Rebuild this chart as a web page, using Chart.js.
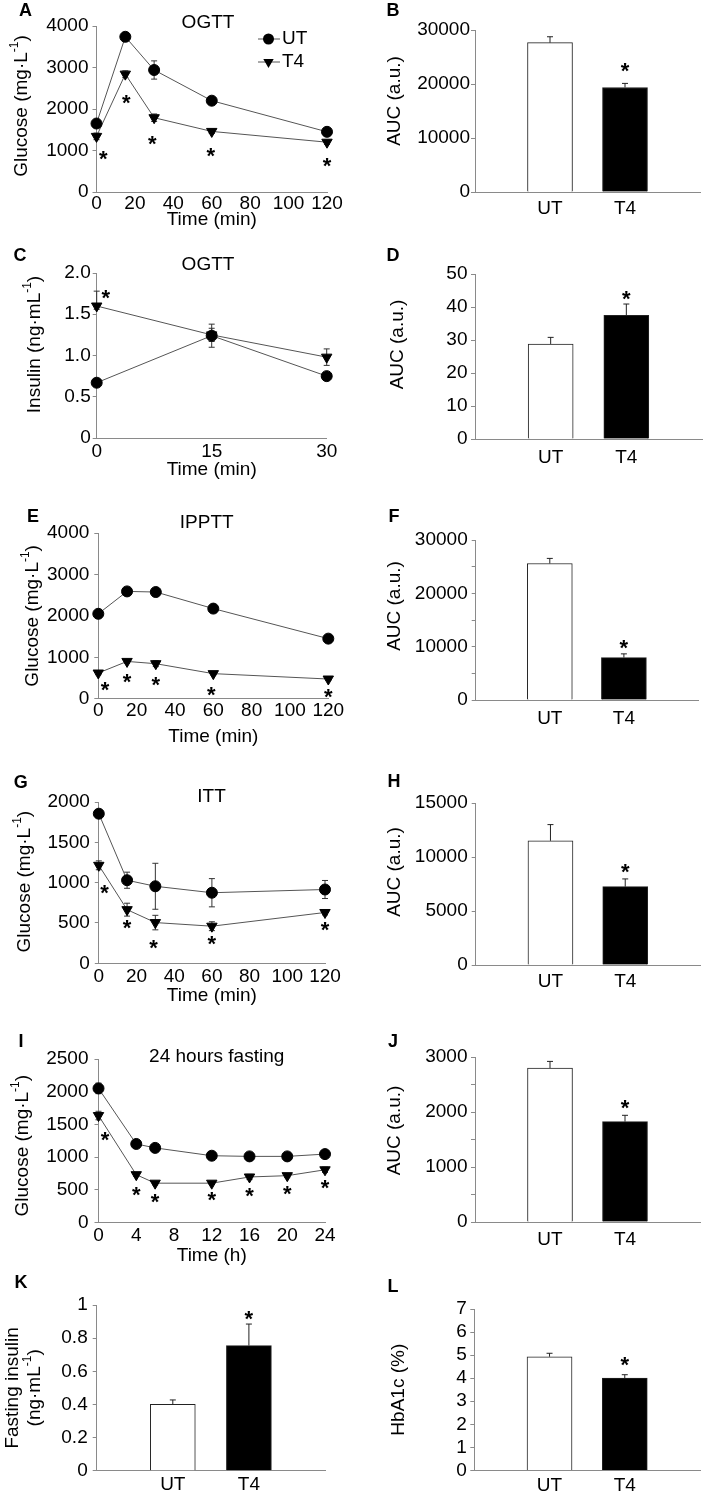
<!DOCTYPE html>
<html>
<head>
<meta charset="utf-8">
<script src="https://cdn.jsdelivr.net/npm/chart.js@4.4.1/dist/chart.umd.min.js"></script>
<style>
html, body { margin: 0; padding: 0; background: #fff; }
#fig { position: relative; width: 709px; height: 1498px; overflow: hidden; background: #fff; }
#fig canvas { position: absolute; }
</style>
</head>
<body>
<div id="fig"></div>
<script>
// --- DATA ---
const groups = ['UT', 'T4']
const minTicks = [0, 20, 40, 60, 80, 100, 120]

// A: OGTT glucose
const ogttTime = [0, 15, 30, 60, 120]
const ogttGluUT = [1650, 3740, 2940, 2200, 1450]
const ogttGluUTErr = [50, 100, 220, 60, 60]
const ogttGluT4 = [1340, 2840, 1790, 1460, 1200]
const ogttGluT4Err = [80, 80, 90, 50, 50]
const ogttGluStarT = [3.5, 15.5, 29, 59.5, 120]
const ogttGluStarY = [925, 2290, 1290, 1000, 765]
const gluTicksA = [0, 1000, 2000, 3000, 4000]

// B: OGTT glucose AUC
const ogttGluAuc = [27650, 19360]
const ogttGluAucErr = [1100, 750]
const ogttGluAucStar = 23500
const aucTicksB = [0, 10000, 20000, 30000]

// C: OGTT insulin
const insTime = [0, 15, 30]
const ogttInsUT = [0.67, 1.24, 0.75]
const ogttInsUTErr = [0.03, 0.14, 0.04]
const ogttInsT4 = [1.60, 1.25, 0.98]
const ogttInsT4Err = [0.18, 0.08, 0.1]
const ogttInsT4ErrLow = [0.04, 0.08, 0.1]
const ogttInsStarT = [1.2]
const ogttInsStarY = [1.77]
const insTicksC = [0, 0.5, 1, 1.5, 2]
const insTickLabelsC = ['0', '0.5', '1.0', '1.5', '2.0']

// D: OGTT insulin AUC
const ogttInsAuc = [28.8, 37.5]
const ogttInsAucErr = [2.0, 3.4]
const ogttInsAucStar = 44.2
const aucTicksD = [0, 10, 20, 30, 40, 50]

// E: IPPTT
const ipptTime = [0, 15, 30, 60, 120]
const ipptUT = [2050, 2590, 2575, 2175, 1450]
const ipptUTErr = [50, 50, 50, 60, 50]
const ipptT4 = [620, 900, 845, 605, 475]
const ipptT4Err = [40, 40, 70, 30, 30]
const ipptStarT = [3.5, 15, 30, 59, 120]
const ipptStarY = [340, 540, 460, 235, 180]
const gluTicksE = [0, 1000, 2000, 3000, 4000]

// F: IPPTT AUC
const ipptAuc = [25600, 7950]
const ipptAucErr = [950, 700]
const ipptAucStar = 10750
const aucTicksF = [0, 5000, 10000, 15000, 20000, 25000, 30000]
const aucTickLabelsF = ['0', '', '10000', '', '20000', '', '30000']

// G: ITT
const ittTime = [0, 15, 30, 60, 120]
const ittUT = [1855, 1030, 955, 875, 915]
const ittUTErr = [50, 100, 285, 175, 112]
const ittT4 = [1215, 665, 505, 460, 630]
const ittT4Err = [55, 80, 90, 55, 30]
const ittStarT = [3, 15, 29, 60, 120]
const ittStarY = [946, 512, 264, 306, 483]
const gluTicksG = [0, 500, 1000, 1500, 2000]

// H: ITT AUC
const ittAuc = [11500, 7250]
const ittAucErr = [1500, 720]
const ittAucStar = 9170
const aucTicksH = [0, 5000, 10000, 15000]

// I: 24 hours fasting
const fastTime = [0, 4, 6, 12, 16, 20, 24]
const fastUT = [2050, 1200, 1140, 1020, 1010, 1010, 1045]
const fastUTErr = [80, 30, 30, 30, 30, 30, 40]
const fastT4 = [1635, 730, 600, 600, 695, 715, 805]
const fastT4Err = [65, 25, 25, 20, 40, 30, 40]
const fastStarT = [0.7, 4, 6, 12, 16, 20, 24]
const fastStarY = [1342, 510, 398, 423, 490, 525, 612]
const gluTicksI = [0, 500, 1000, 1500, 2000, 2500]
const hourTicks = [0, 4, 8, 12, 16, 20, 24]

// J: fasting AUC
const fastAuc = [2800, 1825]
const fastAucErr = [120, 115]
const fastAucStar = 2176
const aucTicksJ = [0, 500, 1000, 1500, 2000, 2500, 3000]
const aucTickLabelsJ = ['0', '', '1000', '', '2000', '', '3000']

// K: fasting insulin
const fastIns = [0.40, 0.755]
const fastInsErr = [0.027, 0.13]
const fastInsStar = 0.95
const insTicksK = [0, 0.2, 0.4, 0.6, 0.8, 1]

// L: HbA1c
const hba1c = [4.93, 4.0]
const hba1cErr = [0.15, 0.15]
const hba1cStar = 4.83
const hbTicks = [0, 1, 2, 3, 4, 5, 6, 7]

// --- TEXT ---
const gluLabel = [[{t: 'Glucose (mg·L'}, {t: '-1', sup: true}, {t: ')'}]]
const insLabel = [[{t: 'Insulin (ng·mL'}, {t: '-1', sup: true}, {t: ')'}]]
const aucLabel = [[{t: 'AUC (a.u.)'}]]
const fastInsLabel = [[{t: 'Fasting insulin'}], [{t: '(ng·mL'}, {t: '-1', sup: true}, {t: ')'}]]
const hbLabel = [[{t: 'HbA1c (%)'}]]

// --- STYLE / LAYOUT ---
const FAMILY = '"Liberation Sans", Arial, sans-serif'
const FSIZE = 19
const FONT = FSIZE + 'px ' + FAMILY
const SUPFONT = '12px ' + FAMILY
const AXIS = '#8a8a8a'
const LINE = '#555'
const AXW = 72, AXH = 40, TOPM = 34, BOTM = 60

Chart.defaults.font.family = FAMILY
Chart.defaults.font.size = FSIZE
Chart.defaults.color = '#000'

const panels = [
    { letter: 'A', kind: 'line', col: 0, plot: [96.5, 26, 327, 192], letterAt: [-71, -14.5],
      title: {t: 'OGTT', dx: 111.5, dy: -3}, ylab: gluLabel, ylabX: [-74.5], ylabDy: -3, xlab: 'Time (min)', xlabDy: 28,
      xTicks: minTicks, xPad: 0, yTicks: gluTicksA, yPad: 4, legend: true,
      time: ogttTime, ut: ogttGluUT, utErr: ogttGluUTErr, t4: ogttGluT4, t4Err: ogttGluT4Err, starT: ogttGluStarT, starY: ogttGluStarY },
    { letter: 'B', kind: 'bar', col: 1, plot: [475, 30, 700, 192], letterAt: [-82, -19],
      ylab: aucLabel, ylabX: [-80], ylabDy: -10, xPad: 5, yTicks: aucTicksB, yPad: 1,
      vals: ogttGluAuc, errs: ogttGluAucErr, star: ogttGluAucStar },
    { letter: 'C', kind: 'line', col: 0, plot: [96.7, 273.3, 326.7, 438.3], letterAt: [-76.7, -17.3],
      title: {t: 'OGTT', dx: 111.3, dy: -8.3}, ylab: insLabel, ylabX: [-61.7], ylabDy: -11, xlab: 'Time (min)', xlabDy: 32,
      xTicks: insTime, xPad: 2, yTicks: insTicksC, yTickLabels: insTickLabelsC, yPad: 2,
      time: insTime, ut: ogttInsUT, utErr: ogttInsUTErr, t4: ogttInsT4, t4Err: ogttInsT4Err, t4ErrLow: ogttInsT4ErrLow,
      starT: ogttInsStarT, starY: ogttInsStarY },
    { letter: 'D', kind: 'bar', col: 1, plot: [475, 274.3, 702, 439.3], letterAt: [-82, -18.3],
      ylab: aucLabel, ylabX: [-77], ylabDy: -12, xPad: 7, yTicks: aucTicksD, yPad: 3.5,
      vals: ogttInsAuc, errs: ogttInsAucErr, star: ogttInsAucStar },
    { letter: 'E', kind: 'line', col: 0, plot: [98.3, 533.3, 328.3, 699], letterAt: [-65.3, -16.3],
      title: {t: 'IPPTT', dx: 108.4, dy: -10.3}, ylab: gluLabel, ylabX: [-65.3], ylabDy: 0, xlab: 'Time (min)', xlabDy: 37.7,
      xTicks: minTicks, xPad: 1, yTicks: gluTicksE, yPad: 5,
      time: ipptTime, ut: ipptUT, utErr: ipptUTErr, t4: ipptT4, t4Err: ipptT4Err, starT: ipptStarT, starY: ipptStarY },
    { letter: 'F', kind: 'bar', col: 1, plot: [475.7, 540, 698, 700], letterAt: [-81.7, -23],
      ylab: aucLabel, ylabX: [-80.7], ylabDy: -14, xPad: 7, yTicks: aucTicksF, yTickLabels: aucTickLabelsF, yPad: 4,
      vals: ipptAuc, errs: ipptAucErr, star: ipptAucStar },
    { letter: 'G', kind: 'line', col: 0, plot: [98.8, 801.7, 325, 963], letterAt: [-78, -18.7],
      title: {t: 'ITT', dx: 112.7, dy: -5.7}, ylab: gluLabel, ylabX: [-74], ylabDy: -1, xlab: 'Time (min)', xlabDy: 32,
      xTicks: minTicks, xPad: 2, yTicks: gluTicksG, yPad: 5,
      time: ittTime, ut: ittUT, utErr: ittUTErr, t4: ittT4, t4Err: ittT4Err, starT: ittStarT, starY: ittStarY },
    { letter: 'H', kind: 'bar', col: 1, plot: [475.7, 802.7, 700, 964.7], letterAt: [-81.7, -20.7],
      ylab: aucLabel, ylabX: [-80.7], ylabDy: -12, xPad: 5, yTicks: aucTicksH, yPad: 4,
      vals: ittAuc, errs: ittAucErr, star: ittAucStar },
    { letter: 'I', kind: 'line', col: 0, plot: [98.5, 1059.3, 325, 1222.7], letterAt: [-77.5, -17.3],
      title: {t: '24 hours fasting', dx: 118.2, dy: -2.3}, ylab: gluLabel, ylabX: [-75.5], ylabDy: 5, xlab: 'Time (h)', xlabDy: 33,
      xTicks: hourTicks, xPad: 2, yTicks: gluTicksI, yPad: 6,
      time: fastTime, ut: fastUT, utErr: fastUTErr, t4: fastT4, t4Err: fastT4Err, starT: fastStarT, starY: fastStarY },
    { letter: 'J', kind: 'bar', col: 1, plot: [475, 1057.3, 700, 1222.3], letterAt: [-82, -15.3],
      ylab: aucLabel, ylabX: [-80], ylabDy: -9, xPad: 6, yTicks: aucTicksJ, yTickLabels: aucTickLabelsJ, yPad: 3.5,
      vals: fastAuc, errs: fastAucErr, star: fastAucStar },
    { letter: 'K', kind: 'bar', col: 0, plot: [96.7, 1305, 325, 1470.7], letterAt: [-75.7, -22],
      ylab: fastInsLabel, ylabX: [-83.7, -61.7], ylabDy: 0, xPad: 2.5, yTicks: insTicksK, yPad: 5,
      vals: fastIns, errs: fastInsErr, star: fastInsStar },
    { letter: 'L', kind: 'bar', col: 1, plot: [474.3, 1309.3, 700, 1470.7], letterAt: [-81.3, -22.3],
      ylab: hbLabel, ylabX: [-75.3], ylabDy: 0, xPad: 4, yTicks: hbTicks, yPad: 3.5,
      vals: hba1c, errs: hba1cErr, star: hba1cStar }
]

const specs = {}

// --- DRAW HELPERS ---

function drawRich(ctx, parts, x, y, rotate){
    ctx.save()
    ctx.translate(x, y)
    if (rotate) ctx.rotate(-Math.PI / 2)
    let w = 0
    parts.forEach(p => { ctx.font = p.sup ? SUPFONT : FONT; w += ctx.measureText(p.t).width })
    let cx = -w / 2
    ctx.textAlign = 'left'
    ctx.textBaseline = 'middle'
    ctx.fillStyle = '#000'
    parts.forEach(p => {
        ctx.font = p.sup ? SUPFONT : FONT
        ctx.fillText(p.t, cx, p.sup ? -7 : 0)
        cx += ctx.measureText(p.t).width
    })
    ctx.restore()
}

function marker(ctx, style, x, y){
    ctx.save()
    ctx.fillStyle = '#000'
    ctx.beginPath()
    if (style === 'circle') {
        ctx.arc(x, y, 5.5, 0, Math.PI * 2)
    } else {
        const r = 6
        ctx.moveTo(x - r * 0.866, y - r / 2)
        ctx.lineTo(x + r * 0.866, y - r / 2)
        ctx.lineTo(x, y + r)
        ctx.closePath()
    }
    ctx.fill()
    ctx.restore()
}

function star(ctx, x, y){
    ctx.save()
    ctx.font = 'bold 22px ' + FAMILY
    ctx.textAlign = 'center'
    ctx.textBaseline = 'alphabetic'
    ctx.fillStyle = '#000'
    ctx.fillText('*', x, y + 12.7)
    ctx.restore()
}

function errBar(ctx, x, yTop, yBot){
    ctx.beginPath()
    ctx.moveTo(x, yTop); ctx.lineTo(x, yBot)
    ctx.moveTo(x - 3, yTop); ctx.lineTo(x + 3, yTop)
    ctx.moveTo(x - 3, yBot); ctx.lineTo(x + 3, yBot)
    ctx.stroke()
}

const decor = {
    id: 'decor',
    beforeDatasetsDraw(chart){
        const p = specs[chart.canvas.id]
        if (p.kind !== 'line') return
        const ctx = chart.ctx, xs = chart.scales.x, ys = chart.scales.y
        ctx.save()
        ctx.strokeStyle = '#333'
        ctx.lineWidth = 1
        chart.data.datasets.forEach(ds => {
            ds.data.forEach((pt, i) => {
                const up = ds.errors[i]
                const low = ds.errorsLow ? ds.errorsLow[i] : up
                const px = xs.getPixelForValue(pt.x)
                errBar(ctx, px, ys.getPixelForValue(pt.y + up), ys.getPixelForValue(pt.y - low))
            })
        })
        ctx.restore()
    },
    afterDatasetsDraw(chart){
        const p = specs[chart.canvas.id]
        if (p.kind !== 'bar') return
        const ctx = chart.ctx, ys = chart.scales.y
        const meta = chart.getDatasetMeta(0)
        const ds = chart.data.datasets[0]
        ctx.save()
        ctx.strokeStyle = '#222'
        ctx.lineWidth = 1
        ds.data.forEach((v, i) => {
            if (v === null) return
            const px = meta.data[i].x
            const yv = ys.getPixelForValue(v), ye = ys.getPixelForValue(v + ds.errors[i])
            ctx.beginPath()
            ctx.moveTo(px, yv); ctx.lineTo(px, ye)
            ctx.moveTo(px - 3, ye); ctx.lineTo(px + 3, ye)
            ctx.stroke()
        })
        ctx.restore()
    },
    afterDraw(chart){
        const p = specs[chart.canvas.id]
        const ctx = chart.ctx, area = chart.chartArea
        const xs = chart.scales.x, ys = chart.scales.y

        // panel letter
        ctx.save()
        ctx.font = 'bold 18px ' + FAMILY
        ctx.textAlign = 'center'
        ctx.textBaseline = 'middle'
        ctx.fillStyle = '#000'
        ctx.fillText(p.letter, area.left + p.letterAt[0], area.top + p.letterAt[1])
        ctx.restore()

        // y label
        const midY = (area.top + area.bottom) / 2 + p.ylabDy
        p.ylab.forEach((line, i) => drawRich(ctx, line, area.left + p.ylabX[i], midY, true))

        if (p.kind === 'line') {
            ctx.save()
            ctx.font = FONT
            ctx.fillStyle = '#000'
            ctx.textAlign = 'center'
            ctx.textBaseline = 'middle'
            ctx.fillText(p.title.t, area.left + p.title.dx, area.top + p.title.dy)
            ctx.fillText(p.xlab, (area.left + area.right) / 2, area.bottom + p.xlabDy)
            ctx.restore()

            p.starT.forEach((t, i) => star(ctx, xs.getPixelForValue(t), ys.getPixelForValue(p.starY[i])))

            if (p.legend) {
                const rows = [['UT', 'circle', 13], ['T4', 'triangle', 36]]
                rows.forEach(([name, style, dy]) => {
                    const y = area.top + dy, x0 = area.left + 161.5
                    ctx.save()
                    ctx.strokeStyle = LINE
                    ctx.lineWidth = 1
                    ctx.beginPath(); ctx.moveTo(x0, y); ctx.lineTo(x0 + 22, y); ctx.stroke()
                    ctx.restore()
                    marker(ctx, style, x0 + 10.5, y)
                    ctx.save()
                    ctx.font = FONT
                    ctx.fillStyle = '#000'
                    ctx.textAlign = 'left'
                    ctx.textBaseline = 'middle'
                    ctx.fillText(name, x0 + 24, y)
                    ctx.restore()
                })
            }
        } else {
            const i = chart.data.labels.indexOf('T4')
            star(ctx, xs.getPixelForValue(i), ys.getPixelForValue(p.star))
        }
    }
}

// --- AXES ---

function yAxis(p){
    const ticks = p.yTicks
    const labels = p.yTickLabels || ticks.map(String)
    return {
        type: 'linear',
        min: ticks[0],
        max: ticks[ticks.length - 1],
        afterBuildTicks: s => { s.ticks = ticks.map(v => ({value: v})) },
        afterFit: s => { s.width = AXW },
        ticks: { padding: p.yPad, autoSkip: false, callback: (v, i) => labels[i], font: {size: FSIZE} },
        grid: { drawOnChartArea: false, drawTicks: true, tickLength: 4, color: AXIS, lineWidth: 1 },
        border: { color: AXIS, width: 1 }
    }
}

function xLinear(p){
    const ticks = p.xTicks
    return {
        type: 'linear',
        min: ticks[0],
        max: ticks[ticks.length - 1],
        afterBuildTicks: s => { s.ticks = ticks.map(v => ({value: v})) },
        afterFit: s => { s.height = AXH },
        ticks: { padding: p.xPad, autoSkip: false, maxRotation: 0, callback: (v, i) => String(ticks[i]), font: {size: FSIZE} },
        grid: { drawOnChartArea: false, drawTicks: false, color: AXIS },
        border: { color: AXIS, width: 1 }
    }
}

function xCategory(p){
    return {
        type: 'category',
        offset: false,
        afterFit: s => { s.height = AXH },
        ticks: { padding: p.xPad, autoSkip: false, maxRotation: 0, font: {size: FSIZE} },
        grid: { drawOnChartArea: false, drawTicks: false, color: AXIS },
        border: { color: AXIS, width: 1 }
    }
}

// --- BUILD ---

function makeCanvas(p){
    const [pl, pt, pr, pb] = p.plot
    const cx = p.col === 0 ? 0 : 355
    const cw = p.col === 0 ? 355 : 354
    const ct = pt - TOPM
    const ch = Math.round((pb - pt) + TOPM + BOTM)
    const c = document.createElement('canvas')
    c.id = 'panel' + p.letter
    c.width = cw
    c.height = ch
    c.style.left = cx + 'px'
    c.style.top = ct + 'px'
    c.style.width = cw + 'px'
    c.style.height = ch + 'px'
    document.getElementById('fig').appendChild(c)
    specs[c.id] = p
    const padding = {
        left: pl - cx - AXW,
        top: TOPM,
        right: cx + cw - pr,
        bottom: ch - TOPM - (pb - pt) - AXH
    }
    return {c, padding}
}

function lineDataset(p, vals, errs, errsLow, style){
    return {
        data: p.time.map((t, i) => ({x: t, y: vals[i]})),
        errors: errs,
        errorsLow: errsLow,
        borderColor: LINE,
        borderWidth: 1,
        tension: 0,
        pointStyle: style,
        pointRotation: style === 'triangle' ? 180 : 0,
        pointRadius: style === 'triangle' ? 6 : 5.5,
        pointBackgroundColor: '#000',
        pointBorderColor: '#000',
        pointBorderWidth: 1,
        clip: false
    }
}

function buildPanel(p){
    const {c, padding} = makeCanvas(p)
    let config
    if (p.kind === 'line') {
        config = {
            type: 'line',
            data: { datasets: [
                lineDataset(p, p.ut, p.utErr, null, 'circle'),
                lineDataset(p, p.t4, p.t4Err, p.t4ErrLow || null, 'triangle')
            ] },
            options: { scales: { x: xLinear(p), y: yAxis(p) } }
        }
    } else {
        config = {
            type: 'bar',
            data: {
                labels: ['', groups[0], groups[1], ''],
                datasets: [{
                    data: [null, p.vals[0], p.vals[1], null],
                    errors: [0, p.errs[0], p.errs[1], 0],
                    backgroundColor: ['#fff', '#fff', '#000', '#000'],
                    borderColor: '#222',
                    borderWidth: 1,
                    barThickness: 45
                }]
            },
            options: { scales: { x: xCategory(p), y: yAxis(p) } }
        }
    }
    Object.assign(config.options, {
        responsive: false,
        animation: false,
        events: [],
        layout: { padding },
        plugins: { legend: { display: false }, tooltip: { enabled: false }, title: { display: false } }
    })
    config.plugins = [decor]
    new Chart(c.getContext('2d'), config)
}

panels.forEach(buildPanel)
</script>
</body>
</html>
